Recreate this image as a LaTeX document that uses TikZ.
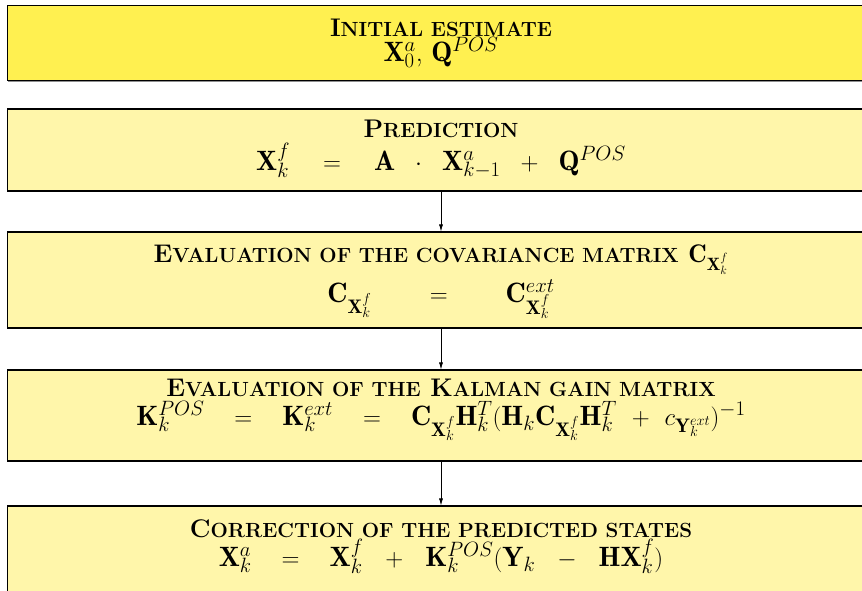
\documentclass[tikz,border=0pt]{standalone}
\usepackage{fontspec}
\usetikzlibrary{arrows.meta,shadows}
\definecolor{initfill}{RGB}{255,240,80}
\definecolor{stepfill}{RGB}{255,246,170}
\newcommand{\fsc}[1]{{\fontsize{20.5}{22}\selectfont #1}}
\newcommand{\eqgap}{\hspace{30pt}}
\begin{document}
\begin{tikzpicture}[x=1pt,y=-1pt,
  stepbox/.style={draw=black, line width=1.1pt, rectangle, inner sep=0pt,
    minimum width=867pt,
    drop shadow={shadow xshift=0.8pt, shadow yshift=-1.2pt, fill=black!55, opacity=0.8}},
  titletext/.style={anchor=base, inner sep=0pt, font=\fontsize{25.5}{28}\selectfont\bfseries},
  mathtext/.style={anchor=base, inner sep=0pt, font=\fontsize{28}{32}\selectfont},
  arr/.style={-{Latex[length=7pt,width=4pt]}, line width=0.7pt}]
\useasboundingbox (0,0) rectangle (862,590);
\clip (0,0) rectangle (862,590);
% boxes
\node[stepbox, fill=initfill, minimum height=75pt] (b1) at (441,42.8) {};
\node[stepbox, fill=stepfill, minimum height=82pt] (b2) at (441,150) {};
\node[stepbox, fill=stepfill, minimum height=96pt] (b3) at (441,280) {};
\node[stepbox, fill=stepfill, minimum height=91pt] (b4) at (441,415.5) {};
\node[stepbox, fill=stepfill, minimum height=134pt] (b5) at (441,573) {};
% texts
\node[titletext] (t1) at (441,36) {I\fsc{NITIAL ESTIMATE}};
\node[mathtext] (m1) at (441,61) {$\mathbf{X}_0^a$, $\mathbf{Q}^{POS}$};
\node[titletext] (t2) at (441,137) {P\fsc{REDICTION}};
\node[mathtext] (m2) at (441,170) {$\mathbf{X}_k^f\hspace{33pt}{=}\hspace{33pt}\mathbf{A}\hspace{20pt}{\cdot}\hspace{20pt}\mathbf{X}_{k-1}^a\hspace{20pt}{+}\hspace{20pt}\mathbf{Q}^{POS}$};
\node[titletext] (t3) at (441,262) {E\fsc{VALUATION OF THE COVARIANCE MATRIX} $\mathbf{C}_{\mathbf{X}_k^f}$};
\node[mathtext] (m3) at (441,302) {$\mathbf{C}_{\mathbf{X}_k^f}\hspace{58pt}{=}\hspace{58pt}\mathbf{C}^{ext}_{\mathbf{X}_k^f}$};
\node[titletext] (t4) at (441,396) {E\fsc{VALUATION OF THE} K\fsc{ALMAN GAIN MATRIX}};
\node[mathtext] (m4) at (441,425) {$\mathbf{K}_k^{POS}\eqgap{=}\eqgap\mathbf{K}_k^{ext}\eqgap{=}\eqgap\mathbf{C}_{\mathbf{X}_k^f}\mathbf{H}_k^T(\mathbf{H}_k\mathbf{C}_{\mathbf{X}_k^f}\mathbf{H}_k^T\hspace{15pt}{+}\hspace{15pt}c_{\mathbf{Y}_k^{ext}})^{-1}$};
\node[titletext] (t5) at (441,537) {C\fsc{ORRECTION OF THE PREDICTED STATES}};
\node[mathtext] (m5) at (441,566) {$\mathbf{X}_k^a\eqgap{=}\eqgap\mathbf{X}_k^f\hspace{22pt}{+}\hspace{22pt}\mathbf{K}_k^{POS}(\mathbf{Y}_k\hspace{22pt}{-}\hspace{22pt}\mathbf{H}\mathbf{X}_k^f)$};
% arrows
\draw[arr] (b2.south) -- (b3.north);
\draw[arr] (b3.south) -- (b4.north);
\draw[arr] (b4.south) -- (b5.north);
\end{tikzpicture}
\end{document}
